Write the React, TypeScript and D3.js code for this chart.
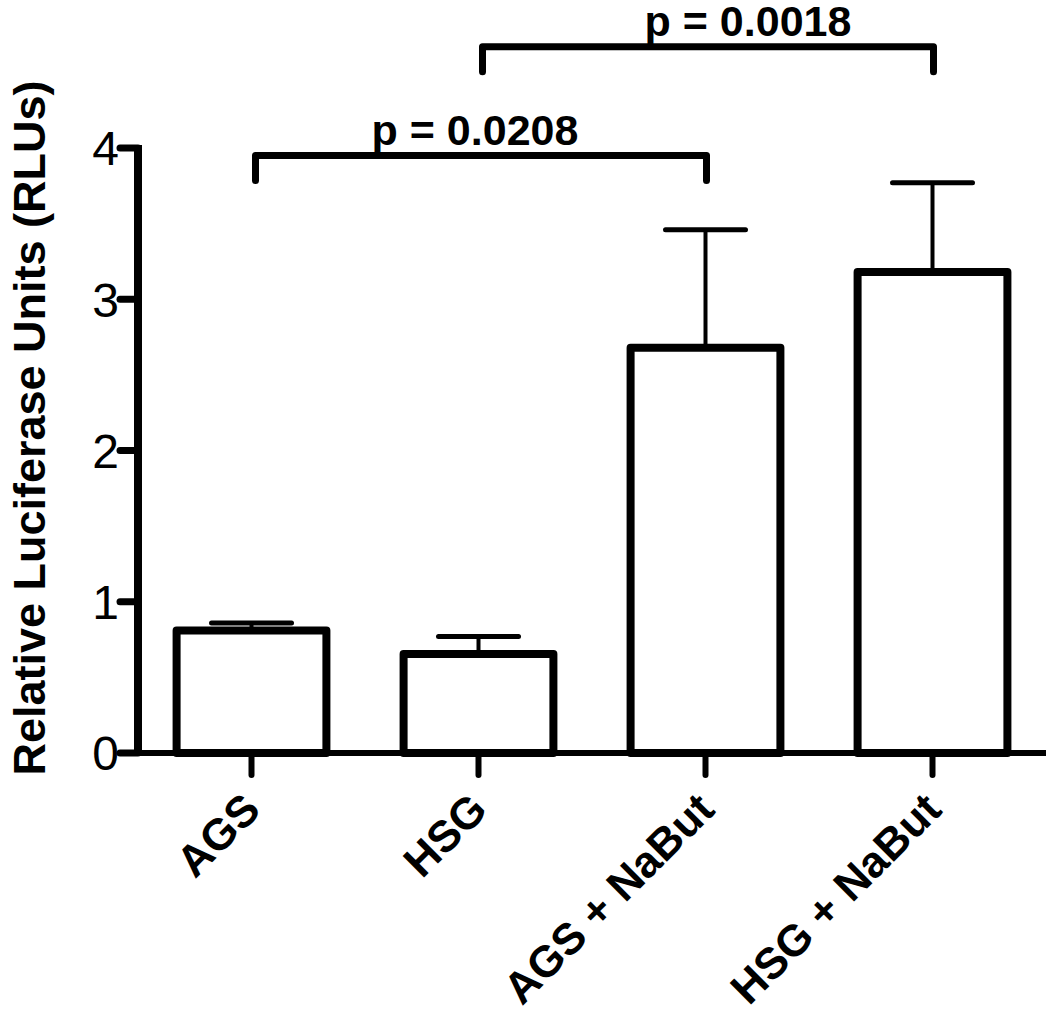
import React from "react";
import * as d3 from "d3";

const categories = ["AGS", "HSG", "AGS + NaBut", "HSG + NaBut"];
const means = [0.81, 0.655, 2.68, 3.18];
const errors = [0.05, 0.115, 0.78, 0.59];
const yTicks = [0, 1, 2, 3, 4];
const bracketFrom = [0, 1];
const bracketTo = [2, 3];
const bracketLevels = [3.95, 4.67];
const pLabels = ["p = 0.0208", "p = 0.0018"];
const yTitle = "Relative Luciferase Units (RLUs)";

const W = 1050;
const H = 1018;
const axisX = 138;
const FONT = "'Liberation Sans', Arial, Helvetica, sans-serif";

export default function App() {
  const y = d3.scaleLinear().domain([0, 4]).range([753, 148]);
  const x = d3
    .scaleBand<string>()
    .domain(categories)
    .range([axisX, 1046])
    .paddingInner(0.34)
    .paddingOuter(0.17);
  const bw = x.bandwidth();
  const cx = (c: string) => (x(c) as number) + bw / 2;
  const capW = 80;
  const legLen = 25;
  const pOffsets = [-6, 40];

  return (
    <svg
      width={W}
      height={H}
      style={{ position: "absolute", left: 0, top: 0, background: "#fff" }}
      fontFamily={FONT}
    >
      <rect x={0} y={0} width={W} height={H} fill="#fff" />
      {/* bars */}
      {categories.map((c, i) => (
        <g key={c}>
          <line
            x1={cx(c)}
            x2={cx(c)}
            y1={y(means[i])}
            y2={y(means[i] + errors[i])}
            stroke="#000"
            strokeWidth={4}
          />
          <line
            x1={cx(c) - capW / 2}
            x2={cx(c) + capW / 2}
            y1={y(means[i] + errors[i])}
            y2={y(means[i] + errors[i])}
            stroke="#000"
            strokeWidth={5}
            strokeLinecap="round"
          />
          <rect
            x={x(c)}
            y={y(means[i])}
            width={bw}
            height={y(0) - y(means[i])}
            fill="#fff"
            stroke="#000"
            strokeWidth={8}
            strokeLinejoin="round"
          />
        </g>
      ))}
      {/* x axis */}
      <line x1={axisX} x2={1046} y1={y(0)} y2={y(0)} stroke="#000" strokeWidth={6} />
      {categories.map((c) => (
        <line
          key={"t" + c}
          x1={cx(c)}
          x2={cx(c)}
          y1={y(0)}
          y2={y(0) + 22}
          stroke="#000"
          strokeWidth={6}
          strokeLinecap="round"
        />
      ))}
      {categories.map((c) => (
        <text
          key={"l" + c}
          transform={`translate(${cx(c) + 11},${812}) rotate(-45)`}
          textAnchor="end"
          fontSize={44}
          fontWeight="bold"
          fill="#000"
        >
          {c}
        </text>
      ))}
      {/* y axis */}
      <line x1={axisX} x2={axisX} y1={y(0) + 3} y2={y(4) - 3} stroke="#000" strokeWidth={8} />
      {yTicks.map((t) => (
        <g key={"y" + t}>
          <line
            x1={axisX - 18}
            x2={axisX}
            y1={y(t)}
            y2={y(t)}
            stroke="#000"
            strokeWidth={7}
            strokeLinecap="round"
          />
          <text
            x={axisX - 19}
            y={y(t)}
            dy="0.36em"
            textAnchor="end"
            fontSize={48}
            fill="#000"
          >
            {t}
          </text>
        </g>
      ))}
      <text
        transform={`translate(45,${428}) rotate(-90)`}
        textAnchor="middle"
        fontSize={45}
        fontWeight="bold"
        fill="#000"
      >
        {yTitle}
      </text>
      {/* significance brackets */}
      {bracketFrom.map((a, i) => {
        const x1 = cx(categories[a]) + 4;
        const x2 = cx(categories[bracketTo[i]]) + 1;
        const yy = y(bracketLevels[i]);
        return (
          <g key={"b" + i}>
            <path
              d={`M${x1},${yy + legLen}V${yy}H${x2}V${yy + legLen}`}
              fill="none"
              stroke="#000"
              strokeWidth={7}
              strokeLinecap="round"
              strokeLinejoin="round"
            />
            <text
              x={(x1 + x2) / 2 + pOffsets[i]}
              y={yy - 11}
              textAnchor="middle"
              fontSize={43}
              fontWeight="bold"
              fill="#000"
            >
              {pLabels[i]}
            </text>
          </g>
        );
      })}
    </svg>
  );
}
